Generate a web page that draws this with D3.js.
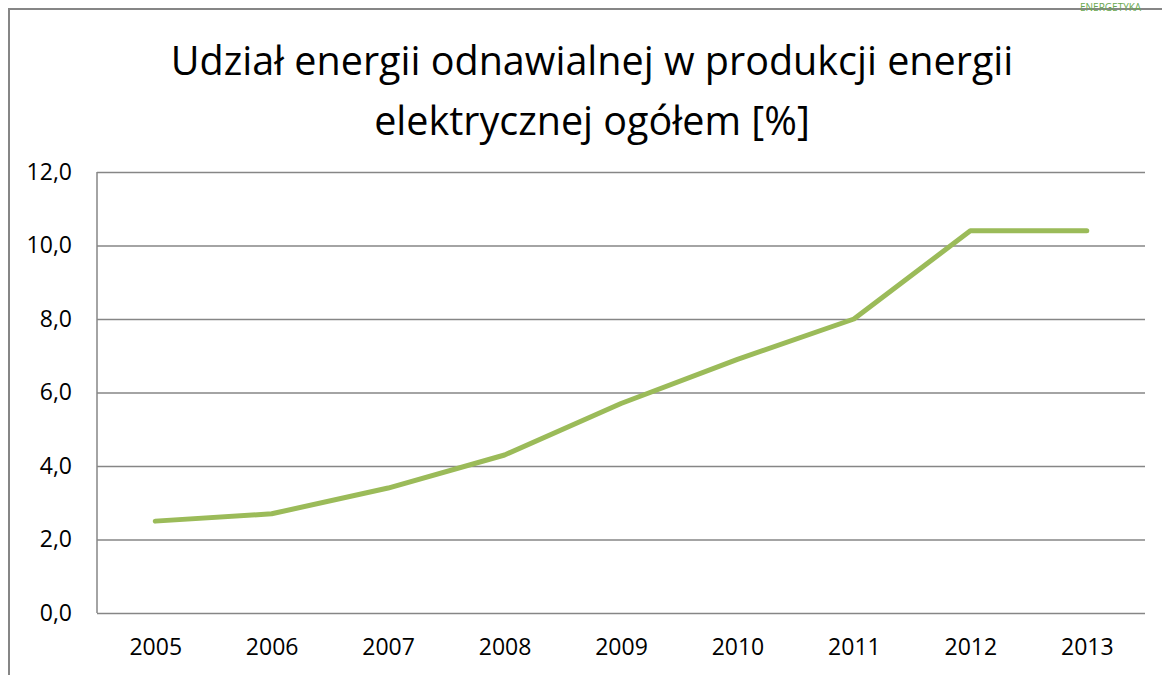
<!DOCTYPE html>
<html>
<head>
<meta charset="utf-8">
<script src="https://cdn.jsdelivr.net/npm/d3@7"></script>
<style>
  body { margin: 0; background: #fff; }
  svg { display: block; font-family: "Open Sans", sans-serif; }
</style>
</head>
<body>
<div id="chart"></div>
<script>
const years = ['2005', '2006', '2007', '2008', '2009', '2010', '2011', '2012', '2013'];
const shares = [2.5, 2.7, 3.4, 4.3, 5.7, 6.9, 8.0, 10.4, 10.4];
const yTicks = [0, 2, 4, 6, 8, 10, 12];
const titleLines = ['Udział energii odnawialnej w produkcji energii', 'elektrycznej ogółem [%]'];

const width = 1162, height = 675;
const margin = {top: 172, right: 17, bottom: 62, left: 97};

const svg = d3.select('#chart').append('svg')
  .attr('width', width)
  .attr('height', height);

// outer chart frame (cut by the page edge)
svg.append('path')
  .attr('d', `M9,${height + 2}V9H${width + 2}`)
  .attr('fill', 'none')
  .attr('stroke', '#868686')
  .attr('stroke-width', 2);

svg.append('text')
  .attr('x', 1080)
  .attr('y', 10.5)
  .attr('fill', '#6aa84f')
  .style('font-size', '10px')
  .text('ENERGETYKA');

svg.append('g')
  .selectAll('text')
  .data(titleLines)
  .join('text')
  .attr('x', 592)
  .attr('y', (d, i) => 75 + i * 60)
  .attr('text-anchor', 'middle')
  .attr('fill', '#000')
  .style('font-size', '39.5px')
  .text(d => d);

let xScale = d3.scalePoint()
  .domain(years)
  .range([margin.left, width - margin.right])
  .padding(0.5);

let yScale = d3.scaleLinear()
  .domain([0, 12])
  .range([height - margin.bottom, margin.top]);

// gridlines + y labels
let yAxis = g => g
  .attr('transform', `translate(${margin.left},0)`)
  .call(d3.axisLeft(yScale)
    .tickValues(yTicks)
    .tickSize(-(width - margin.left - margin.right))
    .tickPadding(25)
    .tickFormat(d => d3.format('.1f')(d).replace('.', ',')))
  .call(g => g.select('.domain').remove())
  .call(g => g.selectAll('line').attr('stroke', '#868686').attr('stroke-width', 1.5))
  .call(g => g.selectAll('text').attr('fill', '#000').style('font-size', '23px').style('font-family', '"Open Sans", sans-serif'));

svg.append('g').call(yAxis);

// left axis line
svg.append('line')
  .attr('x1', margin.left).attr('x2', margin.left)
  .attr('y1', yScale(12)).attr('y2', yScale(0))
  .attr('stroke', '#868686')
  .attr('stroke-width', 1.5);

let xAxis = g => g
  .attr('transform', `translate(0,${height - margin.bottom})`)
  .call(d3.axisBottom(xScale).tickSize(0).tickPadding(26))
  .call(g => g.select('.domain').remove())
  .call(g => g.selectAll('text').attr('fill', '#000').style('font-size', '23px').style('font-family', '"Open Sans", sans-serif'));

svg.append('g').call(xAxis);

let line = d3.line()
  .x((d, i) => xScale(years[i]))
  .y(d => yScale(d));

svg.append('path')
  .datum(shares)
  .attr('d', line)
  .attr('fill', 'none')
  .attr('stroke', '#9bbb59')
  .attr('stroke-width', 5)
  .attr('stroke-linecap', 'round')
  .attr('stroke-linejoin', 'round');
</script>
</body>
</html>
